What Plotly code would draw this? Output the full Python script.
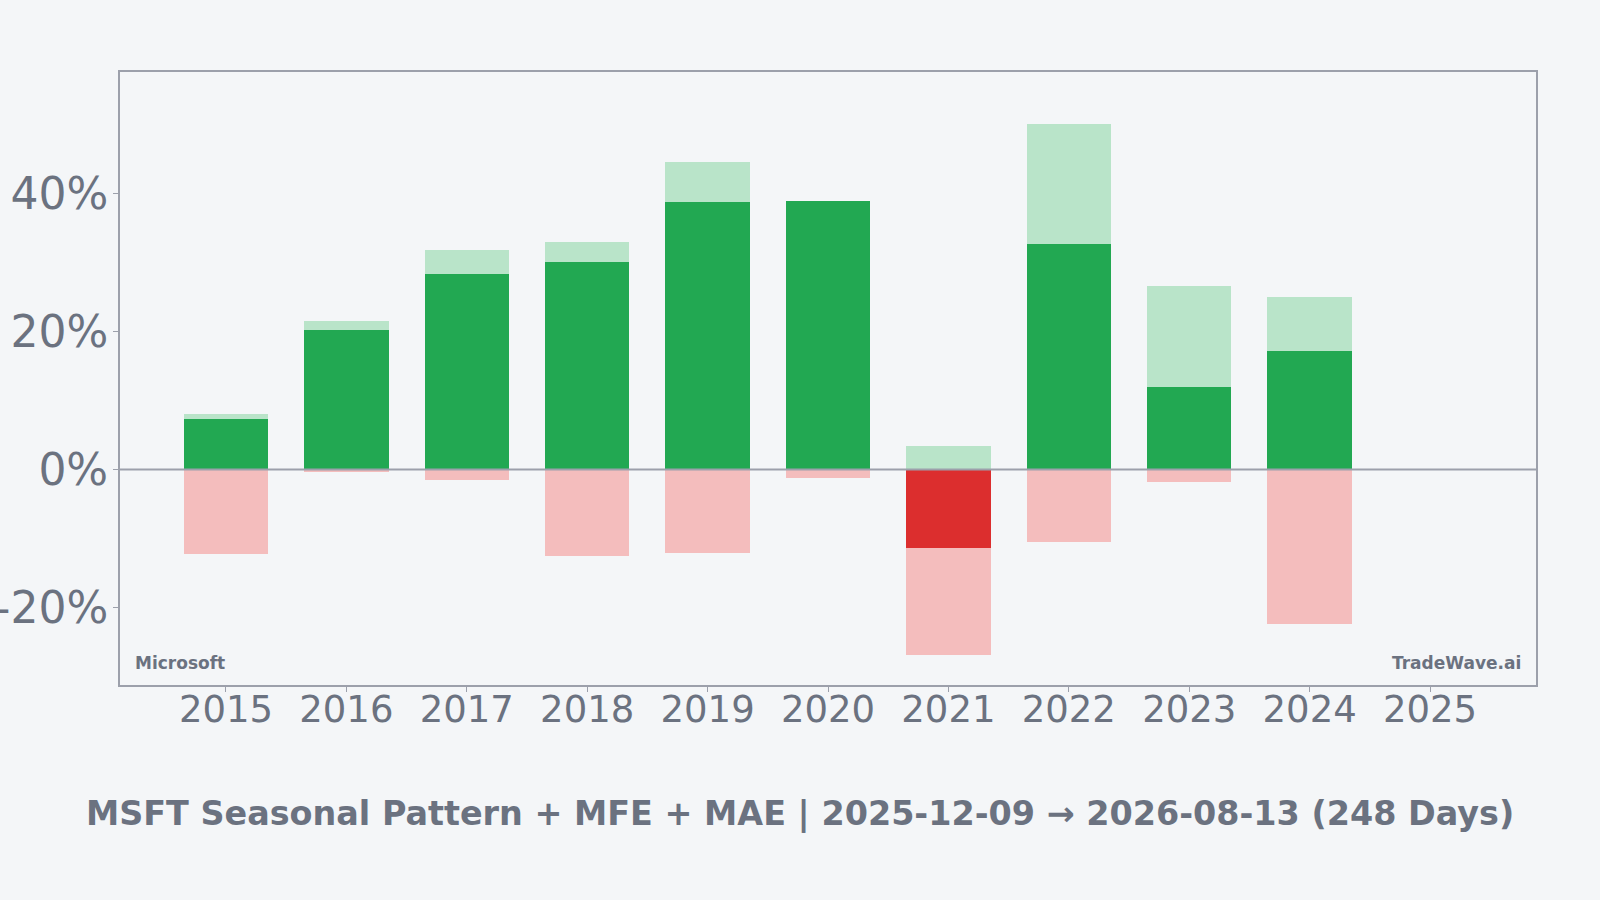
import plotly.graph_objects as go

years = [2015, 2016, 2017, 2018, 2019, 2020, 2021, 2022, 2023, 2024, 2025]
returns = [7.3, 20.3, 28.4, 30.1, 38.8, 39.0, -11.4, 32.8, 12.0, 17.2, None]
mfe = [8.0, 21.5, 31.8, 33.0, 44.7, 39.0, 3.4, 50.2, 26.7, 25.1, None]
mae = [-12.3, -0.4, -1.5, -12.6, -12.2, -1.2, -27.0, -10.5, -1.8, -22.4, None]
ytick_vals = [-20, 0, 20, 40]
ytick_text = ["-20%", "0%", "20%", "40%"]
title = "MSFT Seasonal Pattern + MFE + MAE | 2025-12-09 \u2192 2026-08-13 (248 Days)"

BG = "#f4f6f8"
AX = "#9ca0ab"
TXT = "#6b7280"
GREEN = "#22a852"
RED = "#dc2e2e"
LGREEN = "#b9e4c9"
LRED = "#f4bdbd"

ret_colors = [GREEN if (r is not None and r >= 0) else RED for r in returns]

fig = go.Figure()
fig.add_trace(go.Bar(x=years, y=mfe, width=0.7, marker=dict(color=LGREEN, line=dict(width=0)), name="MFE"))
fig.add_trace(go.Bar(x=years, y=mae, width=0.7, marker=dict(color=LRED, line=dict(width=0)), name="MAE"))
fig.add_trace(go.Bar(x=years, y=returns, width=0.7, marker=dict(color=ret_colors, line=dict(width=0)), name="Return"))

fig.add_shape(type="line", xref="paper", x0=0, x1=1, yref="y", y0=0, y1=0,
              line=dict(color=AX, width=2), layer="above")

fig.add_annotation(text="<b>Microsoft</b>", xref="paper", yref="paper", x=0.009, y=0.017,
                   xanchor="left", yanchor="bottom", showarrow=False,
                   font=dict(family="DejaVu Sans", size=17, color=TXT))
fig.add_annotation(text="<b>TradeWave.ai</b>", xref="paper", yref="paper", x=0.991, y=0.017,
                   xanchor="right", yanchor="bottom", showarrow=False,
                   font=dict(family="DejaVu Sans", size=17, color=TXT))
fig.add_annotation(text="<b>" + title + "</b>", xref="paper", yref="paper", x=0.4802, y=-0.209,
                   xanchor="center", yanchor="middle", showarrow=False,
                   font=dict(family="DejaVu Sans", size=33.4, color=TXT))

fig.update_layout(
    width=1600, height=900,
    barmode="overlay",
    showlegend=False,
    paper_bgcolor=BG, plot_bgcolor=BG,
    margin=dict(l=120, r=64, t=72, b=215, autoexpand=False),
    font=dict(family="DejaVu Sans", color=TXT),
    bargap=0,
)
fig.update_xaxes(range=[2014.12, 2025.88], tickvals=years, ticktext=[str(y) for y in years],
                 showgrid=False, zeroline=False, showline=True, mirror=True, automargin=False,
                 linecolor=AX, linewidth=2, ticks="outside", ticklen=5, tickcolor=AX,
                 ticklabelstandoff=-14,
                 tickfont=dict(size=37, color=TXT))
fig.update_yaxes(range=[-31.3, 57.7], tickvals=ytick_vals, ticktext=ytick_text,
                 showgrid=False, zeroline=False, showline=True, mirror=True, automargin=False,
                 linecolor=AX, linewidth=2, ticks="outside", ticklen=5, tickcolor=AX,
                 ticklabelstandoff=-4,
                 tickfont=dict(size=44, color=TXT))

fig.write_html("out.html", config={"displayModeBar": False},
               post_script="document.body.style.margin='0';")
